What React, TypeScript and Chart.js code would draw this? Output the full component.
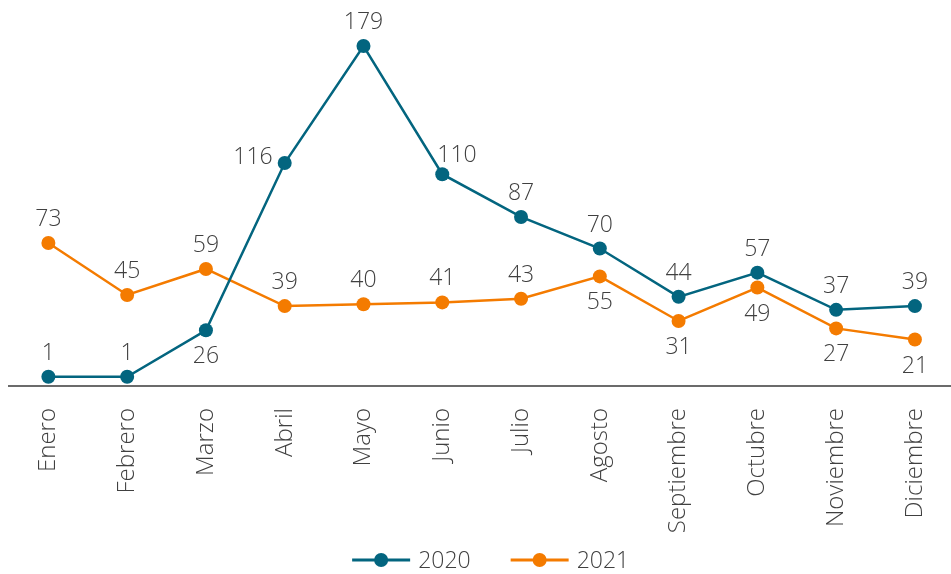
import React, { useEffect, useRef } from "react";
import { Chart, registerables } from "chart.js";

Chart.register(...registerables);

const months = ["Enero", "Febrero", "Marzo", "Abril", "Mayo", "Junio", "Julio", "Agosto", "Septiembre", "Octubre", "Noviembre", "Diciembre"];
const series2020 = [1, 1, 26, 116, 179, 110, 87, 70, 44, 57, 37, 39];
const series2021 = [73, 45, 59, 39, 40, 41, 43, 55, 31, 49, 27, 21];
const seriesNames = ["2020", "2021"];

const COLOR_2020 = "#03657f";
const COLOR_2021 = "#f47b00";
const TEXT = "#404040";
const FONT = "'Open Sans', sans-serif";

// label placement per series: 'a' above, 'b' below, 'l' left, 'r' above-right
const place2020 = ["a", "a", "b", "l", "a", "r", "a", "a", "a", "a", "a", "a"];
const place2021 = ["a", "a", "a", "a", "a", "a", "a", "b", "b", "b", "b", "b"];

const labelPlugin = {
  id: "pointLabels",
  afterDatasetsDraw(chart: any) {
    const ctx = chart.ctx;
    ctx.save();
    ctx.font = `300 23px ${FONT}`;
    ctx.fillStyle = TEXT;
    ctx.textBaseline = "alphabetic";
    const places = [place2020, place2021];
    chart.data.datasets.forEach((ds: any, di: number) => {
      const meta = chart.getDatasetMeta(di);
      meta.data.forEach((pt: any, i: number) => {
        const p = places[di][i];
        const txt = String(ds.data[i]);
        if (p === "a") {
          ctx.textAlign = "center";
          ctx.fillText(txt, pt.x, pt.y - 17);
        } else if (p === "b") {
          ctx.textAlign = "center";
          ctx.fillText(txt, pt.x, pt.y + 33);
        } else if (p === "r") {
          ctx.textAlign = "left";
          ctx.fillText(txt, pt.x - 5, pt.y - 12);
        } else {
          ctx.textAlign = "right";
          ctx.fillText(txt, pt.x - 12, pt.y + 1);
        }
      });
    });
    ctx.restore();
  },
};

// legend: line with a marker, then the series name
const legendPlugin = {
  id: "lineLegend",
  afterDraw(chart: any) {
    const ctx = chart.ctx;
    ctx.save();
    ctx.font = `300 23px ${FONT}`;
    const lineLen = 58;
    const gapText = 8;
    const gapItem = 40;
    const items = chart.data.datasets.map((ds: any) => ({
      text: ds.label,
      color: ds.borderColor,
      w: ctx.measureText(ds.label).width,
    }));
    const total = items.reduce((s: number, it: any) => s + lineLen + gapText + it.w, 0) + gapItem * (items.length - 1);
    const area = chart.chartArea;
    const cx = (area.left + area.right) / 2 + 9;
    const cy = chart.height - 14;
    let x = cx - total / 2;
    items.forEach((it: any) => {
      ctx.strokeStyle = it.color;
      ctx.lineWidth = 3;
      ctx.beginPath();
      ctx.moveTo(x, cy);
      ctx.lineTo(x + lineLen, cy);
      ctx.stroke();
      ctx.fillStyle = it.color;
      ctx.beginPath();
      ctx.arc(x + lineLen / 2, cy, 7, 0, Math.PI * 2);
      ctx.fill();
      ctx.fillStyle = TEXT;
      ctx.textAlign = "left";
      ctx.textBaseline = "middle";
      ctx.fillText(it.text, x + lineLen + gapText, cy + 1);
      x += lineLen + gapText + it.w + gapItem;
    });
    ctx.restore();
  },
};

export default function App() {
  const ref = useRef<HTMLCanvasElement>(null);
  useEffect(() => {
    document.body.style.margin = "0";
    document.body.style.overflow = "hidden";
    const chart = new Chart(ref.current!, {
      type: "line",
      data: {
        labels: months,
        datasets: [
          {
            label: seriesNames[0],
            data: series2020,
            borderColor: COLOR_2020,
            backgroundColor: COLOR_2020,
            borderWidth: 2.5,
            pointRadius: 7,
            pointBackgroundColor: COLOR_2020,
            pointBorderWidth: 0,
            tension: 0,
          },
          {
            label: seriesNames[1],
            data: series2021,
            borderColor: COLOR_2021,
            backgroundColor: COLOR_2021,
            borderWidth: 2.5,
            pointRadius: 7,
            pointBackgroundColor: COLOR_2021,
            pointBorderWidth: 0,
            tension: 0,
          },
        ],
      },
      options: {
        animation: false,
        responsive: false,
        maintainAspectRatio: false,
        layout: { padding: { top: 4, left: 9, right: 0, bottom: 33 } },
        plugins: {
          tooltip: { enabled: false },
          legend: { display: false },
        },
        scales: {
          x: {
            offset: true,
            grid: { display: false, drawTicks: false },
            border: { display: true, color: "#6b6b6b", width: 2 },
            ticks: {
              minRotation: 90,
              maxRotation: 90,
              padding: 22,
              color: TEXT,
              font: { family: FONT, size: 24, weight: "300" as any },
            },
            afterFit: (scale: any) => {
              scale.height = 155;
            },
          },
          y: {
            display: false,
            min: -4,
            max: 200,
          },
        },
      },
      plugins: [labelPlugin, legendPlugin],
    });
    return () => chart.destroy();
  }, []);
  return (
    <div style={{ width: 951, height: 574, overflow: "hidden" }}>
      <canvas ref={ref} width={966} height={574} style={{ display: "block" }} />
    </div>
  );
}
